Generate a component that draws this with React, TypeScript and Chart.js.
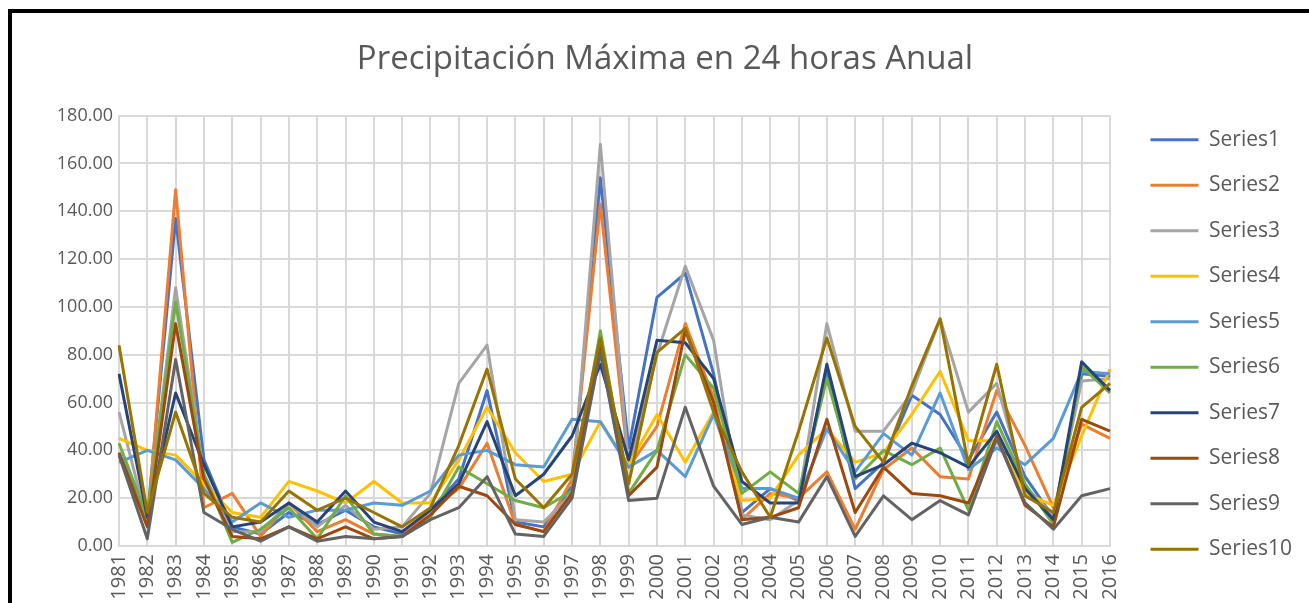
import React, { useEffect, useRef } from "react";
import { Chart, registerables } from "chart.js";

Chart.register(...registerables);

const years = [
  "1981", "1982", "1983", "1984", "1985", "1986", "1987", "1988", "1989", "1990",
  "1991", "1992", "1993", "1994", "1995", "1996", "1997", "1998", "1999", "2000",
  "2001", "2002", "2003", "2004", "2005", "2006", "2007", "2008", "2009", "2010",
  "2011", "2012", "2013", "2014", "2015", "2016",
];

const series1 = [39, 12, 137, 36, 8, 5, 14, 9, 15, 8, 5, 15, 28, 65, 10, 8, 25, 154, 41, 104, 114, 72, 14, 24, 19, 74, 24, 35, 63, 55, 36, 56, 29, 12, 72, 71];
const series2 = [38, 9, 149, 16, 22, 4, 18, 6, 11, 5, 4, 15, 24, 43, 9, 6, 28, 143, 33, 50, 93, 62, 11, 22, 20, 31, 7, 32, 41, 29, 28, 65, 42, 16, 51, 45];
const series3 = [56, 10, 108, 30, 6, 6, 18, 8, 17, 7, 8, 22, 68, 84, 11, 10, 22, 168, 33, 80, 117, 86, 13, 11, 19, 93, 48, 48, 64, 95, 56, 68, 25, 13, 69, 70];
const series4 = [45, 40, 38, 26, 14, 12, 27, 23, 18, 27, 18, 18, 36, 58, 39, 27, 30, 52, 34, 55, 35, 56, 19, 20, 38, 49, 35, 39, 55, 73, 44, 44, 22, 17, 46, 74];
const series5 = [35, 40, 36, 24, 10, 18, 12, 15, 15, 18, 17, 23, 38, 40, 34, 33, 53, 52, 33, 40, 29, 55, 24, 24, 20, 49, 31, 47, 38, 64, 32, 41, 34, 45, 73, 72];
const series6 = [43, 12, 102, 30, 1.5, 7, 16, 3, 21, 5, 4, 12, 33, 26, 19, 16, 23, 90, 22, 40, 80, 66, 22, 31, 22, 70, 28, 40, 34, 41, 15, 52, 26, 9, 75, 64];
const series7 = [72, 12, 64, 34, 8, 10, 18, 10, 23, 10, 6, 15, 26, 52, 21, 30, 46, 76, 36, 86, 85, 70, 27, 18, 18, 76, 29, 34, 43, 39, 33, 48, 24, 11, 77, 65];
const series8 = [39, 8, 93, 28, 4, 3, 8, 3, 8, 3, 4, 13, 25, 21, 9, 6, 22, 85, 21, 33, 90, 60, 11, 12, 16, 53, 14, 33, 22, 21, 18, 46, 17, 8, 53, 48];
const series9 = [38, 3, 78, 14, 7, 2, 8, 2, 4, 3, 4, 11, 16, 29, 5, 4, 20, 81, 19, 20, 58, 25, 9, 12, 10, 29, 4, 21, 11, 19, 13, 45, 18, 7, 21, 24];
const series10 = [84, 14, 56, 22, 12, 10, 23, 15, 20, 14, 8, 16, 42, 74, 28, 16, 30, 87, 26, 81, 91, 56, 31, 12, 48, 87, 50, 35, 67, 95, 34, 76, 21, 14, 58, 68];

const seriesNames = ["Series1", "Series2", "Series3", "Series4", "Series5", "Series6", "Series7", "Series8", "Series9", "Series10"];
const seriesValues = [series1, series2, series3, series4, series5, series6, series7, series8, series9, series10];
const seriesColors = ["#4472C4", "#ED7D31", "#A5A5A5", "#FFC000", "#5B9BD5", "#70AD47", "#264478", "#9E480E", "#636363", "#997300"];

const titleText = "Precipitación Máxima en 24 horas Anual";
const yMin = 0;
const yMax = 180;
const yStep = 20;

const FONT = "'Open Sans', 'Noto Sans', sans-serif";
const TEXT = "#595959";
const GRID = "#d9d9d9";

export default function App() {
  const ref = useRef<HTMLCanvasElement | null>(null);

  useEffect(() => {
    document.documentElement.style.overflow = "hidden";
    document.body.style.overflow = "hidden";
    const canvas = ref.current;
    if (!canvas) return;

    const excelShift = {
      id: "excelShift",
      afterLayout(chart: any) {
        const l = chart.legend;
        if (l) {
          l.left += 16;
          l.right += 16;
          l.top += 36;
          l.bottom += 36;
        }
        const t = chart.titleBlock;
        if (t) {
          t.left += 16;
          t.right += 16;
        }
      },
    };

    const chart = new Chart(canvas, {
      type: "line",
      data: {
        labels: years,
        datasets: seriesValues.map((vals, i) => ({
          label: seriesNames[i],
          data: vals,
          borderColor: seriesColors[i],
          backgroundColor: seriesColors[i],
          borderWidth: 3,
          pointRadius: 0,
          pointHoverRadius: 0,
          fill: false,
          tension: 0,
          borderJoinStyle: "round" as const,
          order: seriesValues.length - i,
        })),
      },
      options: {
        responsive: false,
        animation: false,
        layout: { padding: { left: 0, right: 32, top: 0, bottom: 0 } },
        plugins: {
          tooltip: { enabled: false },
          title: {
            display: true,
            text: titleText,
            color: TEXT,
            font: { family: FONT, size: 33, weight: "normal" },
            padding: { top: 27, bottom: 36 },
          },
          legend: {
            display: true,
            position: "right",
            align: "center",
            labels: {
              usePointStyle: true,
              pointStyle: "line",
              pointStyleWidth: 48,
              color: TEXT,
              font: { family: FONT, size: 21 },
              padding: 24.5,
              sort: (a: any, b: any) => a.datasetIndex - b.datasetIndex,
            },
          },
        },
        scales: {
          x: {
            type: "category",
            offset: false,
            grid: { color: GRID, lineWidth: 2, drawTicks: false },
            border: { color: GRID, width: 2 },
            ticks: {
              autoSkip: false,
              maxRotation: 90,
              minRotation: 90,
              padding: 8,
              color: TEXT,
              font: { family: FONT, size: 20 },
            },
            afterFit: (s: any) => {
              s.height = 58;
            },
          },
          y: {
            min: yMin,
            max: yMax,
            grid: { color: GRID, lineWidth: 2, drawTicks: false },
            border: { display: false },
            ticks: {
              stepSize: yStep,
              padding: 6,
              color: TEXT,
              font: { family: FONT, size: 18 },
              callback: (v: any) => Number(v).toFixed(2),
            },
            afterFit: (s: any) => {
              s.width = 107;
            },
          },
        },
      },
      plugins: [excelShift],
    });

    return () => chart.destroy();
  }, []);

  return (
    <div
      style={{
        position: "fixed",
        left: 0,
        top: 0,
        width: 1309,
        height: 603,
        overflow: "hidden",
        background: "#ffffff",
      }}
    >
      <div
        style={{
          position: "absolute",
          left: 8,
          top: 9,
          width: 1400,
          height: 700,
          borderLeft: "4px solid #000",
          borderTop: "4px solid #000",
          boxSizing: "border-box",
        }}
      />
      <canvas
        ref={ref}
        width={1306}
        height={591}
        style={{ position: "absolute", left: 12, top: 13, width: 1306, height: 591 }}
      />
    </div>
  );
}
